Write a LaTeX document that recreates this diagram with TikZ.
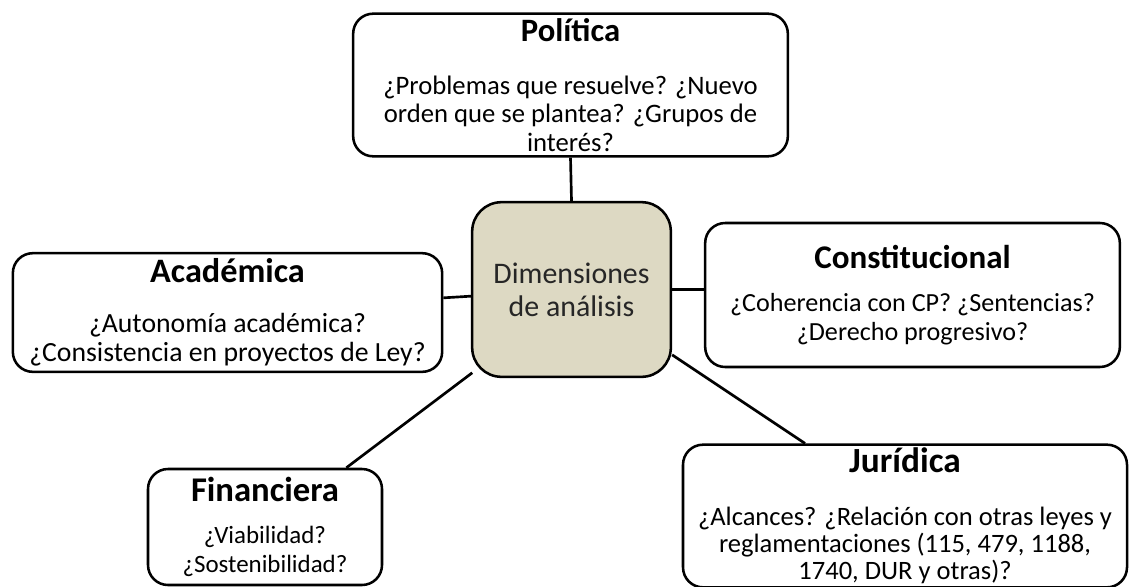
\documentclass[tikz,border=0pt]{standalone}
\usepackage{fontspec}
\setmainfont{Carlito}
\usepackage{tikz}
\usetikzlibrary{positioning}
\definecolor{boxtan}{HTML}{DDD9C3}

% title line of a box: size, extra gap, text
\newcommand\dimtitle[3]{{\fontsize{#1}{#1}\selectfont\bfseries #3}\\[#2]}

\begin{document}
\begin{tikzpicture}[
		x=0.75pt, y=-0.75pt,
		dimbox/.style={draw, rounded corners=15pt, line width=1.9pt, align=center, inner sep=0pt},
		core/.style={draw, fill=boxtan, rounded corners=22pt, line width=1.9pt, align=center, inner sep=0pt, text=black!85, font=\fontsize{22.4}{25}\selectfont, minimum width=149pt, minimum height=131pt},
		link/.style={line width=2pt}
		]
	
		\useasboundingbox (0,0) rectangle (1130,586);
	
		\node[core] (cen) at (571.5, 289.5) {Dimensiones\\de análisis};
	
		\node[dimbox, minimum width=326pt, minimum height=107pt, font=\fontsize{20}{21.4}\selectfont] (pol) at (570.5, 85)
			{\dimtitle{24.5}{18pt}{Política}¿Problemas que resuelve? ¿Nuevo\\orden que se plantea? ¿Grupos de\\interés?};
		\node[dimbox, minimum width=322pt, minimum height=89pt, font=\fontsize{20.8}{21.6}\selectfont] (aca) at (227.5, 312.5)
			{\dimtitle{25.7}{16pt}{Académica}¿Autonomía académica?\\¿Consistencia en proyectos de Ley?};
		\node[dimbox, minimum width=311pt, minimum height=108pt, font=\fontsize{19.6}{21.6}\selectfont] (con) at (912.5, 295)
			{\dimtitle{24.8}{11pt}{Constitucional}¿Coherencia con CP? ¿Sentencias?\\¿Derecho progresivo?};
		\node[dimbox, minimum width=175.5pt, minimum height=87pt, font=\fontsize{18.7}{21.6}\selectfont] (fin) at (265, 527)
			{\dimtitle{26}{9.5pt}{Financiera}¿Viabilidad?\\¿Sostenibilidad?};
		\node[dimbox, minimum width=333pt, minimum height=107pt, font=\fontsize{19.9}{20.4}\selectfont] (jur) at (905, 516)
			{\dimtitle{26.5}{19pt}{Jurídica}¿Alcances? ¿Relación con otras leyes y\\reglamentaciones (115, 479, 1188,\\1740, DUR y otras)?};
	
		\draw[link] (pol.south) -- (cen.north);
		\draw[link] ([yshift=11pt]aca.east) -- ([yshift=-5pt]cen.west);
		\draw[link] (cen.east) -- (cen.east -| con.west);
		\draw[link] ([xshift=1pt,yshift=4pt]cen.south west) -- ([xshift=61pt]fin.north);
		\draw[link] ([yshift=-49pt]cen.east) -- ([xshift=-75pt]jur.north);
	
	\end{tikzpicture}
\end{document}
